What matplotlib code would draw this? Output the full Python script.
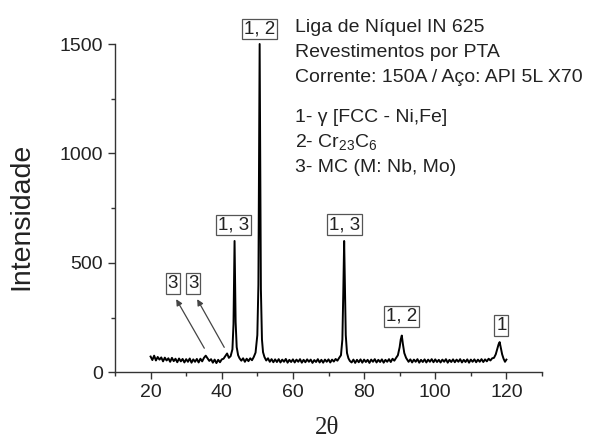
import matplotlib
matplotlib.use("Agg")
import matplotlib.pyplot as plt
from matplotlib.ticker import MultipleLocator

plt.rcParams['font.family'] = ['Liberation Sans', 'DejaVu Sans']
plt.rcParams['mathtext.fontset'] = 'custom'
plt.rcParams['mathtext.rm'] = 'Liberation Sans'
plt.rcParams['mathtext.it'] = 'Liberation Sans'

# ---- data ----
two_theta = [
    20.0, 20.5, 21.0, 21.5, 22.0, 22.5, 23.0, 23.5, 24.0, 24.5,
    25.0, 25.5, 26.0, 26.5, 27.0, 27.5, 28.0, 28.5, 29.0, 29.5,
    30.0, 30.5, 31.0, 31.5, 32.0, 32.5, 33.0, 33.5, 34.0, 34.5,
    35.0, 35.5, 36.0, 36.5, 37.0, 37.5, 38.0, 38.5, 39.0, 39.5,
    40.0, 40.5, 41.0, 41.5, 42.0, 42.5,
    43.0, 43.3, 43.5, 43.6, 43.7, 43.9, 44.2, 44.6, 45.0,
    45.5, 46.0, 46.5, 47.0, 47.5, 48.0, 48.5, 49.0, 49.5,
    50.0, 50.3, 50.5, 50.65, 50.8, 51.0, 51.3, 51.6, 52.0,
    52.5, 53.0, 53.5, 54.0, 54.5, 55.0, 55.5, 56.0, 56.5, 57.0,
    57.5, 58.0, 58.5, 59.0, 59.5, 60.0, 60.5, 61.0, 61.5, 62.0,
    62.5, 63.0, 63.5, 64.0, 64.5, 65.0, 65.5, 66.0, 66.5, 67.0,
    67.5, 68.0, 68.5, 69.0, 69.5, 70.0, 70.5, 71.0, 71.5, 72.0,
    72.5, 73.0, 73.5,
    73.9, 74.15, 74.4, 74.6, 74.85, 75.2, 75.6, 76.0,
    76.5, 77.0, 77.5, 78.0, 78.5, 79.0, 79.5, 80.0, 80.5, 81.0,
    81.5, 82.0, 82.5, 83.0, 83.5, 84.0, 84.5, 85.0, 85.5, 86.0,
    86.5, 87.0, 87.5, 88.0, 88.5, 89.0, 89.5,
    90.0, 90.3, 90.6, 90.9, 91.3, 91.8,
    92.5, 93.0, 93.5, 94.0, 94.5, 95.0, 95.5, 96.0, 96.5, 97.0,
    97.5, 98.0, 98.5, 99.0, 99.5, 100.0, 100.5, 101.0, 101.5, 102.0,
    102.5, 103.0, 103.5, 104.0, 104.5, 105.0, 105.5, 106.0, 106.5, 107.0,
    107.5, 108.0, 108.5, 109.0, 109.5, 110.0, 110.5, 111.0, 111.5, 112.0,
    112.5, 113.0, 113.5, 114.0, 114.5, 115.0, 115.5, 116.0, 116.5, 117.0,
    117.4, 117.8, 118.1, 118.4, 118.8, 119.2, 119.6, 120.0,
]
intensity = [
    72, 56, 76, 54, 70, 58, 68, 50, 67, 54,
    64, 48, 66, 51, 62, 46, 63, 50, 61, 45,
    60, 48, 63, 44, 59, 48, 61, 45, 62, 50,
    66, 76, 64, 52, 60, 44, 58, 42, 57, 46,
    59, 62, 74, 86, 66, 74,
    105, 220, 470, 600, 480, 230, 115, 78, 64,
    53, 64, 48, 62, 51, 64, 55, 70, 90,
    170, 400, 1000, 1500, 1000, 380, 150, 92, 70,
    54, 64, 48, 60, 46, 59, 47, 60, 45, 58,
    48, 61, 44, 57, 47, 59, 45, 58, 48, 60,
    44, 57, 46, 59, 48, 58, 43, 56, 47, 60,
    45, 57, 44, 58, 48, 59, 45, 58, 49, 61,
    53, 66, 78,
    150, 360, 600, 410, 170, 88, 64, 52,
    45, 58, 43, 57, 46, 59, 44, 58, 47, 57,
    43, 58, 48, 60, 45, 57, 47, 59, 44, 57,
    48, 60, 47, 62, 53, 66, 78,
    115, 150, 168, 130, 88, 66,
    48, 59, 45, 58, 48, 60, 44, 57, 47, 59,
    45, 58, 48, 60, 46, 59, 47, 57, 45, 58,
    48, 60, 44, 57, 47, 59, 46, 58, 48, 60,
    45, 57, 47, 59, 44, 58, 48, 59, 46, 58,
    48, 60, 47, 59, 50, 62, 54, 64, 66, 82,
    105, 128, 138, 115, 82, 62, 48, 58,
]

peak_labels = ["1, 2", "1, 3", "1, 3", "1, 2", "1", "3", "3"]
peak_label_x = [50.6, 43.2, 74.4, 90.5, 118.6, 26.3, 32.0]
peak_label_y = [1568, 673, 675, 256, 215, 407, 407]

arrow_tail_x = [35.1, 40.7]
arrow_tail_y = [110, 114]
arrow_head_x = [27.2, 33.1]
arrow_head_y = [334, 334]

info_lines = [
    "Liga de Níquel IN 625",
    "Revestimentos por PTA",
    "Corrente: 150A / Aço: API 5L X70",
    "1- γ [FCC - Ni,Fe]",
    "2- Cr$_{23}$C$_{6}$",
    "3- MC (M: Nb, Mo)",
]
info_baseline_px = [32, 57, 82, 122, 147, 172]

x_ticks = [20, 40, 60, 80, 100, 120]
y_ticks = [0, 500, 1000, 1500]

# ---- figure ----
W, H = 601, 443
fig = plt.figure(figsize=(W / 100, H / 100), dpi=100)
ax = fig.add_axes([115 / W, 1 - 372.3 / H, (542 - 115) / W, (372.3 - 44) / H])

ax.plot(two_theta, intensity, color='black', lw=1.4, clip_on=False)

ax.set_xlim(10, 130)
ax.set_ylim(0, 1500)
ax.set_xticks(x_ticks)
ax.set_yticks(y_ticks)
ax.xaxis.set_minor_locator(MultipleLocator(10))
ax.yaxis.set_minor_locator(MultipleLocator(250))
ax.tick_params(axis='both', which='major', direction='out', length=5, width=1,
               labelsize=14, color='#333333', labelcolor='#222222')
ax.tick_params(axis='both', which='minor', direction='out', length=3, width=1,
               color='#333333')
for s in ['top', 'right']:
    ax.spines[s].set_visible(False)
for s in ['left', 'bottom']:
    ax.spines[s].set_color('#333333')
    ax.spines[s].set_linewidth(1)

for t, x, y in zip(peak_labels, peak_label_x, peak_label_y):
    ax.text(x, y, t, ha='center', va='center', fontsize=13.5, color='#222222',
            clip_on=False,
            bbox=dict(boxstyle='square,pad=0.1', fc='white', ec='#555555', lw=0.9))

for tx, ty, hx, hy in zip(arrow_tail_x, arrow_tail_y, arrow_head_x, arrow_head_y):
    ax.annotate("", xy=(hx, hy), xytext=(tx, ty),
                arrowprops=dict(arrowstyle='-|>', color='#444444', lw=0.9,
                                mutation_scale=9, shrinkA=0, shrinkB=0))

for line, yb in zip(info_lines, info_baseline_px):
    fig.text(295 / W, 1 - yb / H, line, ha='left', va='baseline',
             fontsize=14, color='#222222')

fig.text(21 / W, 1 - 216 / H, "Intensidade", rotation=90, ha='center', va='center',
         fontsize=20.5, color='#222222')
fig.text(327 / W, 1 - 428 / H, "2θ", ha='center', va='center',
         fontsize=18, color='#222222', family=['Liberation Serif', 'DejaVu Serif'])

fig.savefig("out.png", dpi=100)
